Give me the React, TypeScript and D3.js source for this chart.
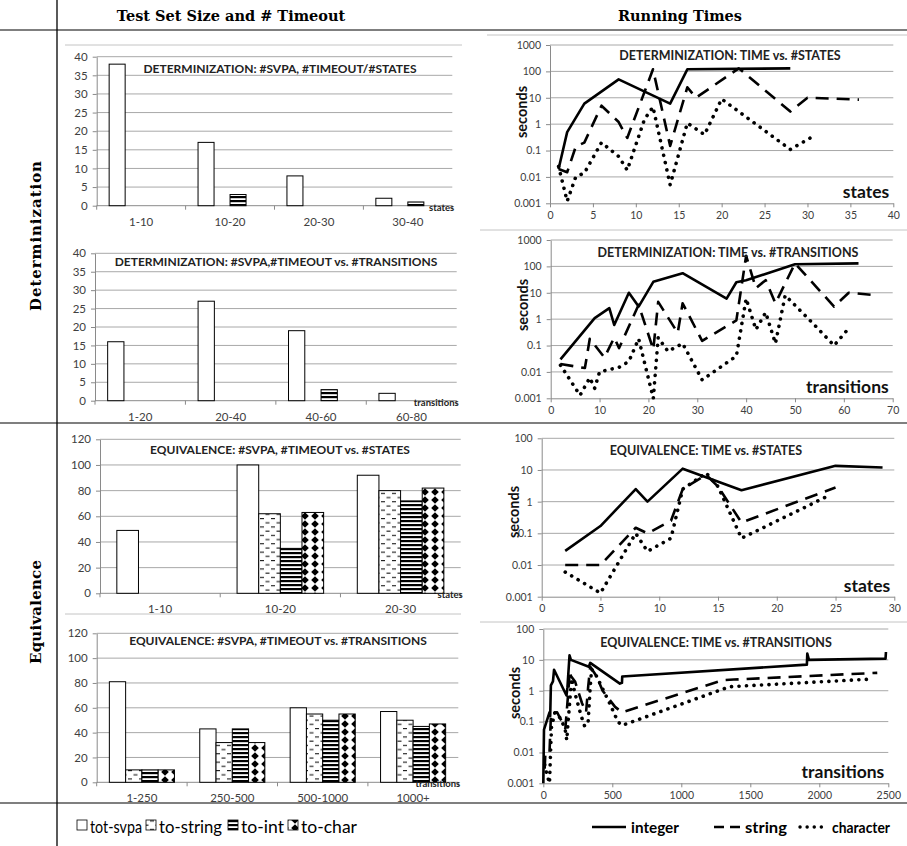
import React, { useEffect, useRef } from 'react';
import * as d3 from 'd3';

const barSeries = ['tot-svpa', 'to-string', 'to-int', 'to-char'];

// determinization: #svpa / #timeout vs #states
const detStateBins = ['1-10', '10-20', '20-30', '30-40'];
const detStateTot = [38, 17, 8, 2];
const detStateStr = [0, 0, 0, 0];
const detStateInt = [0, 3, 0, 1];
const detStateChr = [0, 0, 0, 0];

// determinization: #svpa / #timeout vs #transitions
const detTransBins = ['1-20', '20-40', '40-60', '60-80'];
const detTransTot = [16, 27, 19, 2];
const detTransStr = [0, 0, 0, 0];
const detTransInt = [0, 0, 3, 0];
const detTransChr = [0, 0, 0, 0];

// equivalence: #svpa / #timeout vs #states
const eqStateBins = ['1-10', '10-20', '20-30'];
const eqStateTot = [49, 100, 92];
const eqStateStr = [0, 62, 80];
const eqStateInt = [0, 35, 72];
const eqStateChr = [0, 63, 82];

// equivalence: #svpa / #timeout vs #transitions
const eqTransBins = ['1-250', '250-500', '500-1000', '1000+'];
const eqTransTot = [81, 43, 60, 57];
const eqTransStr = [10, 32, 55, 50];
const eqTransInt = [10, 43, 50, 45];
const eqTransChr = [10, 32, 55, 47];

// running times: [size, seconds]
const detStatesInteger = [[1, 0.02], [2, 0.5], [4, 6], [8, 50], [14, 6], [16, 120], [28, 130]];
const detStatesString = [[1, 0.02], [2, 0.015], [3, 0.14], [4, 0.2], [6, 5], [8, 1.2], [9, 0.3], [12, 120], [14, 0.15], [16, 25], [17, 10], [22, 130], [28, 3], [30, 10], [36, 8.5]];
const detStatesChar = [[1, 0.025], [2, 0.0012], [3, 0.01], [4, 0.014], [6, 0.2], [8, 0.06], [9, 0.018], [11, 1.5], [12, 4.5], [14, 0.005], [16, 1.1], [18, 0.4], [20, 9], [28, 0.11], [31, 0.4]];

const detTransInteger = [[2, 0.03], [9, 1.1], [12, 2.6], [13, 0.6], [16, 10], [18, 3], [21, 26], [27, 55], [36, 6], [38, 25], [40, 30], [50, 120], [63, 130]];
const detTransString = [[2, 0.02], [7, 0.014], [8, 0.18], [11, 0.035], [13, 0.2], [14, 0.08], [18, 3.5], [21, 0.07], [22, 4.5], [26, 0.3], [27, 4], [31, 0.15], [38, 0.9], [40, 250], [42, 15], [44, 30], [46, 4], [50, 130], [58, 3], [61, 10], [67, 8]];
const detTransChar = [[2, 0.018], [6, 0.0013], [8, 0.006], [9, 0.0024], [10, 0.01], [14, 0.015], [16, 0.025], [18, 0.18], [21, 0.001], [22, 0.2], [24, 0.06], [27, 0.12], [31, 0.005], [38, 0.04], [40, 6], [42, 0.4], [44, 1.8], [46, 0.12], [48, 8], [54, 0.6], [58, 0.1], [61, 0.45]];

const eqStatesInteger = [[2, 0.028], [5, 0.17], [8, 2.5], [9, 1], [12, 11], [17, 2.3], [25, 13.5], [29, 12]];
const eqStatesString = [[2, 0.01], [5, 0.01], [8, 0.15], [9, 0.1], [11, 0.25], [12, 2.5], [14, 7], [15, 3], [17, 0.22], [25, 2.8]];
const eqStatesChar = [[2, 0.006], [5, 0.0013], [8, 0.1], [9, 0.027], [11, 0.07], [12, 2.5], [14, 8], [15, 3], [17, 0.07], [24.5, 1.6]];

const eqTransInteger = [[0, 0.001], [5, 0.055], [45, 0.2], [50, 0.15], [55, 1.5], [70, 2], [78, 4.8], [168, 0.7], [175, 1.3], [190, 14], [200, 10], [330, 6], [340, 8], [555, 1.7], [570, 1.8], [572, 2.9], [1910, 7], [1913, 16], [1925, 10], [2480, 11], [2483, 18]];
const eqTransString = [[10, 0.003], [15, 0.01], [45, 0.01], [55, 0.15], [60, 0.2], [70, 0.18], [100, 0.2], [160, 0.06], [180, 0.8], [192, 4.5], [200, 3], [230, 2], [280, 0.4], [310, 0.2], [325, 1.3], [340, 6], [385, 3], [430, 1], [520, 0.3], [570, 0.2], [1300, 2.2], [1380, 2.3], [2420, 3.8]];
const eqTransChar = [[10, 0.004], [25, 0.002], [45, 0.001], [55, 0.02], [60, 0.07], [85, 0.2], [130, 0.12], [160, 0.05], [170, 0.025], [180, 0.1], [205, 2.5], [230, 0.8], [275, 0.15], [300, 0.07], [325, 0.1], [340, 1.3], [350, 5], [385, 3], [480, 0.4], [540, 0.1], [570, 0.075], [1350, 1.35], [2390, 2.4]];

const logTicks = [0.001, 0.01, 0.1, 1, 10, 100, 1000];

const sans = 'Lato, "Open Sans", sans-serif';
const serif = '"DejaVu Serif", "Liberation Serif", serif';
const gridCol = '#a8a8a8';
const axisCol = '#8a8a8a';
const tickCol = '#404040';

const barFill = { 'tot-svpa': '#fff', 'to-string': 'url(#pStr)', 'to-int': 'url(#pInt)', 'to-char': 'url(#pChr)' };

function styleAxis(a, size) {
  a.select('.domain').attr('stroke', axisCol);
  a.selectAll('.tick line').attr('stroke', axisCol);
  a.selectAll('.tick text').attr('fill', tickCol).attr('font-size', size).attr('font-family', sans);
}

function drawBars(root, c) {
  const g = root.append('g');
  const x = d3.scaleBand().domain(c.bins).range([c.left, c.right]).paddingInner(0.28).paddingOuter(0.14);
  const xs = d3.scaleBand().domain(barSeries).range([0, x.bandwidth()]);
  const y = d3.scaleLinear().domain([0, c.max]).range([c.bottom, c.top]);
  const ticks = d3.range(0, c.max + 1, c.step);

  g.selectAll('line.grid').data(ticks.slice(1)).join('line')
    .attr('x1', c.left).attr('x2', c.right)
    .attr('y1', d => y(d)).attr('y2', d => y(d))
    .attr('stroke', gridCol);

  const ya = g.append('g').attr('transform', `translate(${c.left},0)`)
    .call(d3.axisLeft(y).tickValues(ticks).tickSize(4).tickPadding(5).tickSizeOuter(0));
  styleAxis(ya, 11.5);

  const stepW = (c.right - c.left) / c.bins.length;
  g.append('line').attr('x1', c.left).attr('x2', c.right).attr('y1', c.bottom).attr('y2', c.bottom).attr('stroke', axisCol);
  g.selectAll('line.xt').data(d3.range(c.bins.length + 1)).join('line')
    .attr('x1', i => c.left + i * stepW).attr('x2', i => c.left + i * stepW)
    .attr('y1', c.bottom).attr('y2', c.bottom + 4).attr('stroke', axisCol);
  g.selectAll('text.cat').data(c.bins).join('text')
    .attr('x', d => x(d) + x.bandwidth() / 2).attr('y', c.bottom + 20)
    .attr('text-anchor', 'middle').attr('font-size', 11.5).attr('font-family', sans).attr('fill', tickCol)
    .text(d => d);

  const rows = c.bins.flatMap((b, i) => barSeries.map((s, k) => ({ b, s, v: c.values[k][i] }))).filter(d => d.v > 0);
  g.selectAll('rect.bar').data(rows).join('rect')
    .attr('x', d => x(d.b) + xs(d.s)).attr('width', xs.bandwidth())
    .attr('y', d => y(d.v)).attr('height', d => y(0) - y(d.v))
    .attr('fill', d => barFill[d.s]).attr('stroke', '#000').attr('stroke-width', 1);

  g.append('text').attr('x', c.titleX).attr('y', c.titleY).attr('text-anchor', 'middle')
    .attr('font-size', 12).attr('font-weight', 700).attr('font-family', sans).attr('fill', '#222')
    .text(c.title);
  g.append('text').attr('x', c.right + 2).attr('y', c.bottom + 5).attr('text-anchor', 'end')
    .attr('font-size', 9.5).attr('font-weight', 700).attr('font-family', sans).attr('fill', '#222')
    .text(c.xLabel);
}

function drawTimes(root, c) {
  const g = root.append('g');
  const x = d3.scaleLinear().domain([0, c.xMax]).range([c.left, c.right]);
  const y = d3.scaleLog().domain([0.001, c.yMax]).range([c.bottom, c.top]);
  const yt = logTicks.filter(t => t <= c.yMax);

  g.selectAll('line.grid').data(yt.slice(1)).join('line')
    .attr('x1', c.left).attr('x2', c.right)
    .attr('y1', d => y(d)).attr('y2', d => y(d))
    .attr('stroke', gridCol);

  const ya = g.append('g').attr('transform', `translate(${c.left},0)`)
    .call(d3.axisLeft(y).tickValues(yt).tickFormat(d => String(d)).tickSize(4).tickPadding(5).tickSizeOuter(0));
  styleAxis(ya, 10.5);
  const xa = g.append('g').attr('transform', `translate(0,${c.bottom})`)
    .call(d3.axisBottom(x).tickValues(d3.range(0, c.xMax + 1, c.xStep)).tickFormat(d => String(d)).tickSize(4).tickPadding(4).tickSizeOuter(0));
  styleAxis(xa, 10.5);

  const line = d3.line().x(d => x(d[0])).y(d => y(d[1]));
  const styles = [
    { data: c.integer, dash: null, w: 2.6 },
    { data: c.string, dash: '13,8', w: 2.6 },
    { data: c.character, dash: '0.1,7.4', w: 3.6 },
  ];
  styles.forEach(s => {
    g.append('path').attr('d', line(s.data)).attr('fill', 'none').attr('stroke', '#000')
      .attr('stroke-width', s.w).attr('stroke-dasharray', s.dash)
      .attr('stroke-linecap', s.dash && s.dash.startsWith('0.1') ? 'round' : 'butt')
      .attr('stroke-linejoin', 'round');
  });

  g.append('text').attr('x', c.titleX).attr('y', c.titleY).attr('text-anchor', 'middle')
    .attr('font-size', 12.5).attr('font-weight', 700).attr('font-family', sans).attr('fill', '#222')
    .text(c.title);
  g.append('text').attr('x', c.right - 4).attr('y', c.bottom - 5).attr('text-anchor', 'end')
    .attr('font-size', 17.5).attr('font-weight', 700).attr('font-family', sans).attr('fill', '#111')
    .text(c.xLabel);
  g.append('text').attr('transform', `translate(${c.left - 23},${c.secY}) rotate(-90)`)
    .attr('text-anchor', 'middle').attr('font-size', 14.5).attr('font-weight', 700).attr('font-family', sans).attr('fill', '#111')
    .text('seconds');
}

const App = () => {
  const svgRef = useRef(null);

  useEffect(() => {
    const svg = d3.select(svgRef.current);
    svg.selectAll('g.root').remove();
    const root = svg.append('g').attr('class', 'root');

    // chart frames
    const frames = [[65, 462, 45], [487, 907, 35], [480, 907, 230], [65, 461, 614], [480, 907, 622]];
    root.selectAll('line.frame').data(frames).join('line')
      .attr('x1', d => d[0]).attr('x2', d => d[1]).attr('y1', d => d[2]).attr('y2', d => d[2])
      .attr('stroke', '#c4c4c4');

    drawBars(root, {
      left: 96.7, right: 452.3, top: 56.7, bottom: 205.7, max: 40, step: 5,
      bins: detStateBins, values: [detStateTot, detStateStr, detStateInt, detStateChr],
      title: 'DETERMINIZATION: #SVPA, #TIMEOUT/#STATES', titleX: 280, titleY: 73, xLabel: 'states',
    });
    drawBars(root, {
      left: 95, right: 456.7, top: 253.3, bottom: 400.7, max: 40, step: 5,
      bins: detTransBins, values: [detTransTot, detTransStr, detTransInt, detTransChr],
      title: 'DETERMINIZATION: #SVPA,#TIMEOUT vs. #TRANSITIONS', titleX: 276, titleY: 266, xLabel: 'transitions',
    });
    drawBars(root, {
      left: 100, right: 460.7, top: 439.3, bottom: 593.3, max: 120, step: 20,
      bins: eqStateBins, values: [eqStateTot, eqStateStr, eqStateInt, eqStateChr],
      title: 'EQUIVALENCE: #SVPA, #TIMEOUT vs. #STATES', titleX: 280, titleY: 454, xLabel: 'states',
    });
    drawBars(root, {
      left: 96.7, right: 458.3, top: 633.3, bottom: 782.3, max: 120, step: 20,
      bins: eqTransBins, values: [eqTransTot, eqTransStr, eqTransInt, eqTransChr],
      title: 'EQUIVALENCE: #SVPA, #TIMEOUT vs. #TRANSITIONS', titleX: 278, titleY: 645, xLabel: 'transitions',
    });

    drawTimes(root, {
      left: 550, right: 893.3, top: 45, bottom: 203.3, xMax: 40, xStep: 5, yMax: 1000,
      integer: detStatesInteger, string: detStatesString, character: detStatesChar,
      title: 'DETERMINIZATION: TIME vs. #STATES', titleX: 730, titleY: 60, xLabel: 'states', secY: 112,
    });
    drawTimes(root, {
      left: 550.7, right: 892.7, top: 240, bottom: 398.3, xMax: 70, xStep: 10, yMax: 1000,
      integer: detTransInteger, string: detTransString, character: detTransChar,
      title: 'DETERMINIZATION: TIME vs. #TRANSITIONS', titleX: 728, titleY: 257, xLabel: 'transitions', secY: 305,
    });
    drawTimes(root, {
      left: 541.7, right: 894.3, top: 438.3, bottom: 596.7, xMax: 30, xStep: 5, yMax: 100,
      integer: eqStatesInteger, string: eqStatesString, character: eqStatesChar,
      title: 'EQUIVALENCE: TIME vs. #STATES', titleX: 706, titleY: 455, xLabel: 'states', secY: 512,
    });
    drawTimes(root, {
      left: 543.3, right: 888.3, top: 629, bottom: 783.3, xMax: 2500, xStep: 500, yMax: 100,
      integer: eqTransInteger, string: eqTransString, character: eqTransChar,
      title: 'EQUIVALENCE: TIME vs. #TRANSITIONS', titleX: 716, titleY: 647, xLabel: 'transitions', secY: 693,
    });

    // table rules
    root.append('line').attr('x1', 57).attr('x2', 57).attr('y1', 0).attr('y2', 846).attr('stroke', '#000').attr('stroke-width', 1.3);
    [30, 423, 803].forEach(yy => {
      root.append('line').attr('x1', 0).attr('x2', 907).attr('y1', yy).attr('y2', yy).attr('stroke', '#000').attr('stroke-width', 1.2);
    });

    // headers
    root.append('text').attr('x', 231).attr('y', 21).attr('text-anchor', 'middle').attr('font-family', serif)
      .attr('font-weight', 700).attr('font-size', 14.5).text('Test Set Size and # Timeout');
    root.append('text').attr('x', 680).attr('y', 21).attr('text-anchor', 'middle').attr('font-family', serif)
      .attr('font-weight', 700).attr('font-size', 14.5).text('Running Times');
    root.append('text').attr('transform', 'translate(41,236) rotate(-90)').attr('text-anchor', 'middle').attr('font-family', serif)
      .attr('font-weight', 700).attr('font-size', 15).attr('textLength', 150).attr('lengthAdjust', 'spacing').text('Determinization');
    root.append('text').attr('transform', 'translate(41,612) rotate(-90)').attr('text-anchor', 'middle').attr('font-family', serif)
      .attr('font-weight', 700).attr('font-size', 15).attr('textLength', 104).attr('lengthAdjust', 'spacing').text('Equivalence');

    // legend
    const lg = root.append('g');
    const boxes = [[77, 'tot-svpa', 52], [146, 'to-string', 63], [228, 'to-int', 43], [288, 'to-char', 56]];
    boxes.forEach(([bx, name, tl]) => {
      lg.append('rect').attr('x', bx).attr('y', 820).attr('width', 10).attr('height', 10)
        .attr('fill', barFill[name]).attr('stroke', '#000').attr('stroke-width', 0.8);
      lg.append('text').attr('x', bx + 13).attr('y', 833).attr('font-family', sans).attr('font-size', 18)
        .attr('textLength', tl).attr('lengthAdjust', 'spacingAndGlyphs').text(name);
    });
    const lineKeys = [[592, 'integer', null, 2.6, 'butt', 48, 34], [714, 'string', '10,6', 2.6, 'butt', 42, 26], [800, 'character', '0.1,7', 3.4, 'round', 58, 27]];
    lineKeys.forEach(([lx, name, dash, w, cap, tl, len]) => {
      lg.append('line').attr('x1', lx).attr('x2', lx + len).attr('y1', 827).attr('y2', 827)
        .attr('stroke', '#000').attr('stroke-width', w).attr('stroke-dasharray', dash).attr('stroke-linecap', cap);
      lg.append('text').attr('x', lx + len + 5).attr('y', 833).attr('font-family', sans).attr('font-weight', 700)
        .attr('font-size', 16).attr('textLength', tl).attr('lengthAdjust', 'spacingAndGlyphs').text(name);
    });
  }, []);

  return (
    <svg ref={svgRef} width="907" height="846" style={{ position: 'absolute', left: 0, top: 0, background: '#fff' }}>
      <defs>
        <pattern id="pStr" width="11" height="8.4" patternUnits="userSpaceOnUse">
          <rect width="11" height="8.4" fill="#fff" />
          <line x1="1.5" y1="2" x2="5.5" y2="2" stroke="#000" strokeWidth="1" />
          <line x1="7" y1="6.2" x2="11" y2="6.2" stroke="#000" strokeWidth="1" />
        </pattern>
        <pattern id="pInt" width="6" height="4" patternUnits="userSpaceOnUse">
          <rect width="6" height="4" fill="#fff" />
          <rect width="6" height="2.2" fill="#000" />
        </pattern>
        <pattern id="pChr" width="10" height="8" patternUnits="userSpaceOnUse">
          <rect width="10" height="8" fill="#fff" />
          <path d="M5,0.3 L8.8,4 L5,7.7 L1.2,4 Z" fill="#000" />
        </pattern>
      </defs>
    </svg>
  );
};

export default App;
